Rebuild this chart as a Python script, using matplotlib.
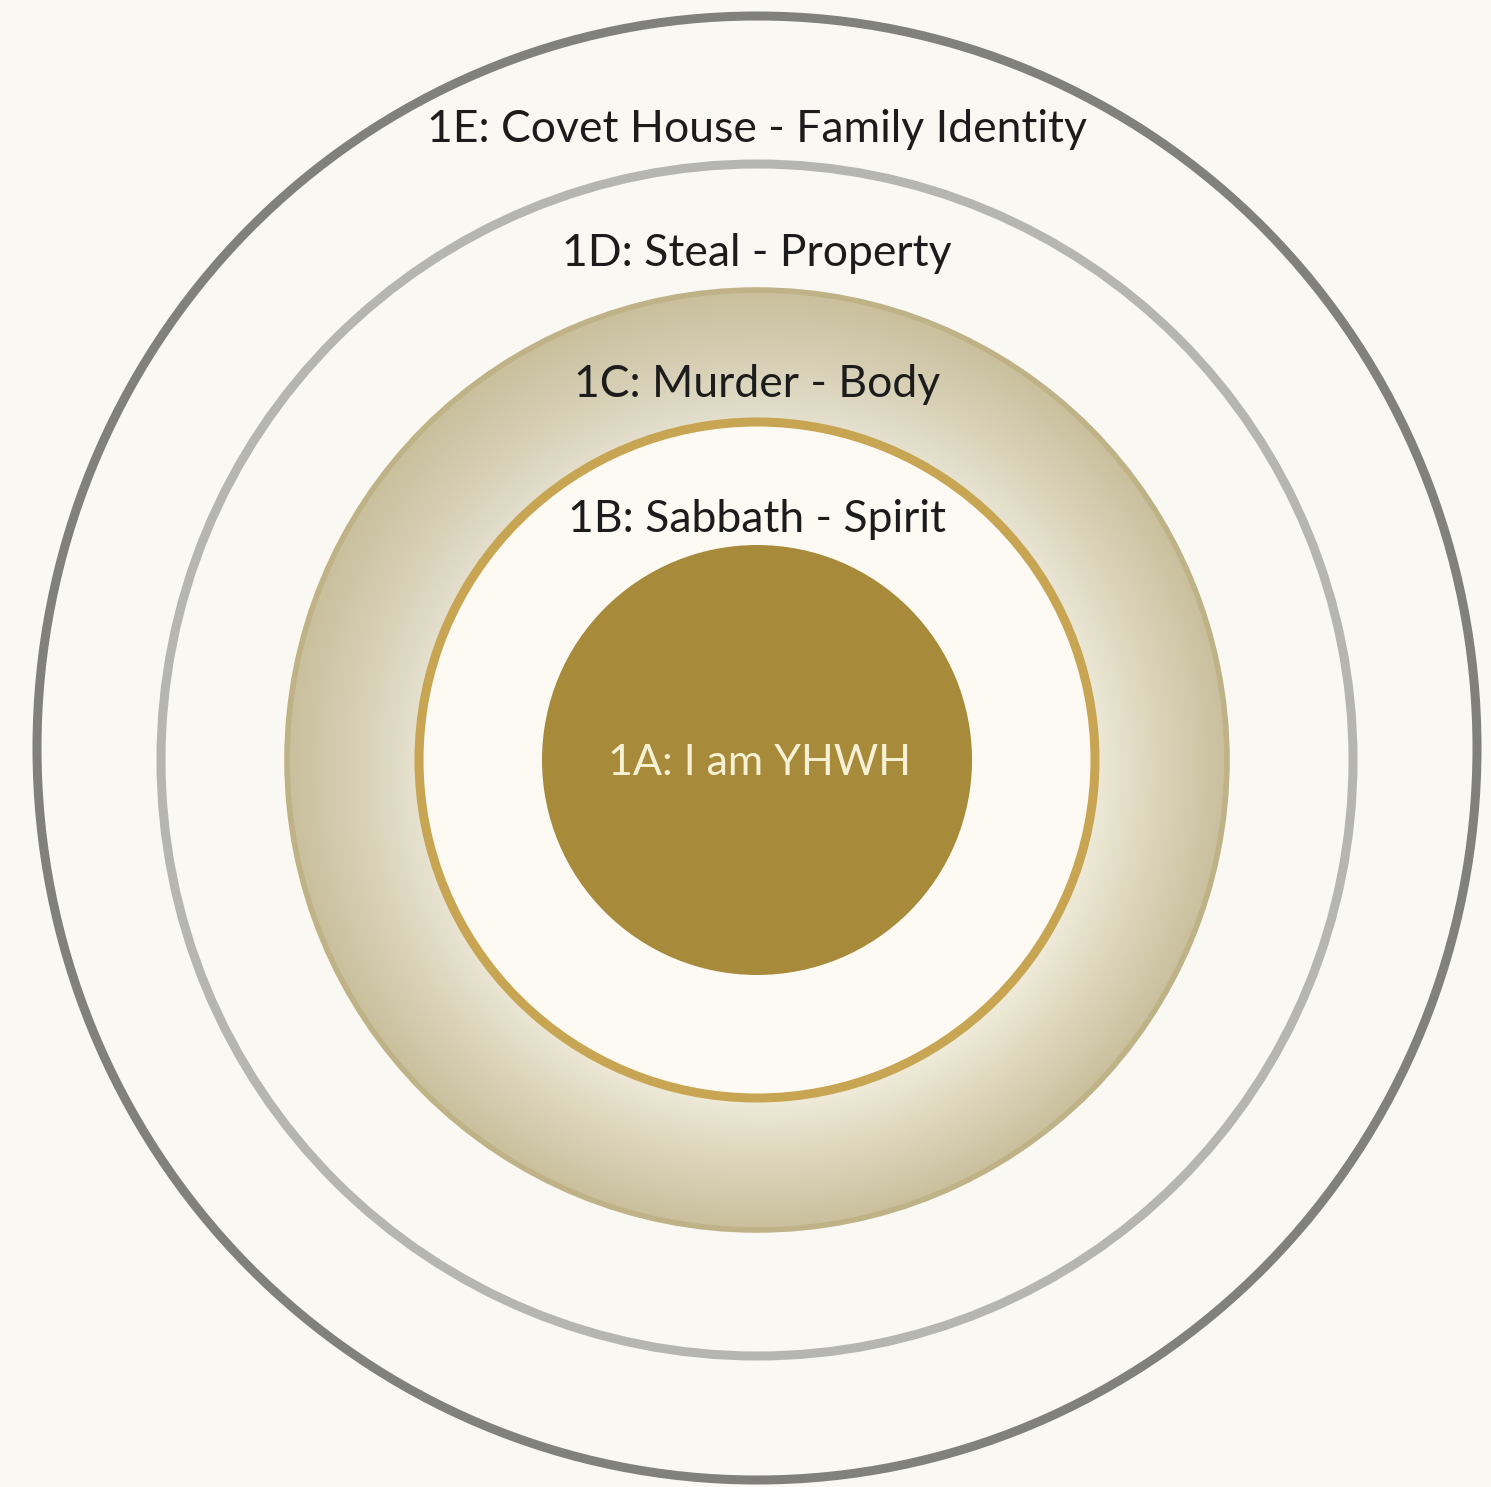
#----Modules----#
import numpy as np
import matplotlib
matplotlib.use('Agg')
import matplotlib.pyplot as plt
from matplotlib.patches import Circle, Ellipse, Annulus

#----Data----#
levels = ['1A', '1B', '1C', '1D', '1E']
labels = ['I am YHWH', 'Sabbath - Spirit', 'Murder - Body', 'Steal - Property',
          'Covet House - Family Identity']
radii = [215, 338, 472, 596, 726]   # ring radius in px

#----Setup----#
W, H = 1491, 1487
bg = '#faf8f2'
cx, cy = 757, 760

fig = plt.figure(figsize=(W / 100, H / 100), dpi=100, facecolor=bg)
ax = fig.add_axes([0, 0, 1, 1])
ax.set_xlim(0, W)
ax.set_ylim(H, 0)
ax.set_aspect('equal')
ax.axis('off')
ax.set_facecolor(bg)

# outer ring (1E) - slightly taller than wide in the original
ax.add_patch(Ellipse((cx, 748), 2 * radii[4] - 12, 2 * radii[4] + 12,
                     fill=False, ec='#80807d', lw=6.5))

# 1D ring
ax.add_patch(Circle((cx, cy), radii[3], fill=False, ec='#b5b5b1', lw=6.5))

# 1C shaded band between 1B and 1C radii
r_in, r_out = radii[1], radii[2]
xs = np.linspace(cx - r_out, cx + r_out, 600)
ys = np.linspace(cy - r_out, cy + r_out, 600)
X, Y = np.meshgrid(xs, ys)
R = np.hypot(X - cx, Y - cy)
t = np.clip((R - r_in) / (r_out - r_in), 0, 1) ** 0.9
# slightly lighter toward the bottom
shade = 0.02 * ((X - cx) + 1.5 * (Y - cy)) / r_out
c0 = np.array([235, 231, 214]) / 255
c1 = np.array([201, 191, 156]) / 255
img = c0 + (c1 - c0) * t[..., None]
img = np.clip(img + shade[..., None] * (1 - t[..., None]), 0, 1)
im = ax.imshow(img, extent=(xs[0], xs[-1], ys[-1], ys[0]), zorder=2,
               interpolation='bilinear')
band = Annulus((cx, cy), r_out, r_out - r_in, fc='none', ec='none')
ax.add_patch(band)
im.set_clip_path(band)
ax.add_patch(Circle((cx, cy), r_out - 2, fill=False, ec='#bfb287', lw=4, zorder=3))

# 1B ring
ax.add_patch(Circle((cx, cy), r_in, fc='#fcfaf3', ec='#c8a553', lw=6.5, zorder=3))

# 1A core
ax.add_patch(Circle((cx, cy), radii[0], fc='#a88a3b', ec='none', zorder=4))

#----Labels----#
baselines = [775, 532, 397, 266, 142]
for lev, lab, yb in zip(levels, labels, baselines):
    if lev == '1A':
        ax.text(cx + 2, yb, f'{lev}: {lab}', ha='center', va='baseline',
                fontsize=31, color='#f6f0d4', family='Lato', zorder=5)
    else:
        ax.text(cx, yb, f'{lev}: {lab}', ha='center', va='baseline',
                fontsize=32, color='#1c1c1c', family='Lato', zorder=5)

fig.savefig('out.png', dpi=100, facecolor=bg)
